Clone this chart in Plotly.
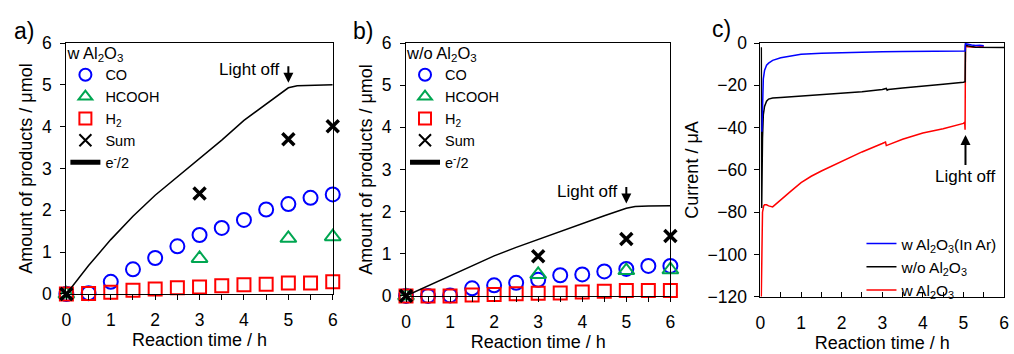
import plotly.graph_objects as go

# ---------------- data ----------------
t_prod = [0, 0.5, 1, 1.5, 2, 2.5, 3, 3.5, 4, 4.5, 5, 5.5, 6]
t_sel = [0, 3, 5, 6]

# panel a: w Al2O3
a_co = [0, 0.02, 0.29, 0.59, 0.86, 1.14, 1.41, 1.58, 1.77, 2.02, 2.15, 2.30, 2.38]
a_h2 = [0, 0.01, 0.04, 0.09, 0.12, 0.15, 0.17, 0.20, 0.22, 0.23, 0.26, 0.26, 0.29]
a_hcooh = [0, 0.85, 1.33, 1.37]
a_sum = [0, 2.40, 3.70, 4.01]
a_e_t = [0, 0.5, 1, 1.5, 2, 2.5, 3, 3.5, 4, 4.5, 5, 5.2, 5.5, 6]
a_e = [0, 0.68, 1.30, 1.86, 2.36, 2.80, 3.22, 3.68, 4.15, 4.55, 4.93, 4.98, 4.99, 5.00]

# panel b: w/o Al2O3
b_co = [0, 0.0, 0.01, 0.18, 0.25, 0.31, 0.38, 0.49, 0.51, 0.58, 0.64, 0.71, 0.71]
b_h2 = [0, 0.0, 0.0, 0.02, 0.03, 0.05, 0.06, 0.07, 0.09, 0.11, 0.13, 0.13, 0.13]
b_hcooh = [0, 0.51, 0.60, 0.62]
b_sum = [0, 0.94, 1.35, 1.42]
b_e_t = [0, 0.5, 1, 1.5, 2, 2.5, 3, 3.5, 4, 4.5, 5, 5.2, 5.5, 6]
b_e = [0, 0.24, 0.48, 0.72, 0.95, 1.15, 1.34, 1.52, 1.72, 1.90, 2.08, 2.12, 2.13, 2.14]

# panel c: current
ar_t = [0.035, 0.05, 0.07, 0.1, 0.15, 0.2, 0.3, 0.5, 0.75, 1.0, 1.5, 2.0,
        2.5, 3.0, 3.5, 4.0, 4.5, 5.0, 5.04, 5.05, 5.1, 5.2, 5.3, 5.4, 5.5]
ar_i = [-42, -25, -17, -13, -10.5, -9.5, -8.2, -7.0, -6.0, -5.3, -4.8, -4.5,
        -4.2, -4.1, -4.0, -3.9, -3.8, -3.8, -3.8, -0.3, -0.6, -0.9, -1.2, -1.0, -1.3]
wo_t = [0.02, 0.025, 0.03, 0.05, 0.07, 0.1, 0.15, 0.2, 0.3, 0.5, 1.0, 1.5, 2.0, 2.5,
        3.0, 3.1, 3.12, 3.15, 3.5, 4.0, 4.5, 5.0, 5.04, 5.05, 5.1, 5.3, 5.5, 6.0]
wo_i = [-2, -40, -78, -45, -34, -30, -27.5, -26.5, -26, -25.7, -25, -24.5, -23.8, -23,
        -22, -21.5, -22.3, -22, -21.3, -20.5, -19.5, -18.5, -18.3, -0.8, -1.3, -2.0, -2.1, -2.1]
w_t = [0.02, 0.03, 0.05, 0.08, 0.1, 0.15, 0.2, 0.3, 0.5, 0.75, 1.0, 1.25, 1.5, 2.0, 2.5,
       3.0, 3.08, 3.1, 3.5, 4.0, 4.5, 5.0, 5.03, 5.04, 5.045, 5.05, 5.1, 5.3, 5.5]
w_i = [-120, -100, -80, -77, -76.5, -76.5, -77, -77.5, -74, -70, -66, -63, -60.5, -56, -51.5,
       -47.5, -46.8, -48.5, -45.5, -42.5, -40.5, -38, -37.5, -41, -19, -1.5, -1.8, -2.0, -1.5]

BLUE = "#0000ff"
GREEN = "#00a651"
RED = "#ff0000"
FONT = "Arial, Liberation Sans, sans-serif"

fig = go.Figure()


def add_products(xa, ya, leg, co, hcooh, h2, sm, et, e):
    fig.add_trace(go.Scatter(x=t_prod, y=co, mode="markers", name="CO", xaxis=xa, yaxis=ya,
                             legend=leg, cliponaxis=False,
                             marker=dict(symbol="circle-open", size=14, color=BLUE, line=dict(width=2, color=BLUE))))
    fig.add_trace(go.Scatter(x=t_sel, y=hcooh, mode="markers", name="HCOOH", xaxis=xa, yaxis=ya,
                             legend=leg, cliponaxis=False,
                             marker=dict(symbol="triangle-up-open", size=14, color=GREEN, line=dict(width=2, color=GREEN))))
    fig.add_trace(go.Scatter(x=t_prod, y=h2, mode="markers", name="H<sub>2</sub>", xaxis=xa, yaxis=ya,
                             legend=leg, cliponaxis=False,
                             marker=dict(symbol="square-open", size=13, color=RED, line=dict(width=2, color=RED))))
    fig.add_trace(go.Scatter(x=t_sel, y=sm, mode="markers", name="Sum", xaxis=xa, yaxis=ya,
                             legend=leg, cliponaxis=False,
                             marker=dict(symbol="x-thin", size=12, color="black", line=dict(width=3.5, color="black"))))
    fig.add_trace(go.Scatter(x=et, y=e, mode="lines", name="e<sup>-</sup>/2", xaxis=xa, yaxis=ya,
                             legend=leg, line=dict(color="black", width=1.5)))


add_products("x", "y", "legend", a_co, a_hcooh, a_h2, a_sum, a_e_t, a_e)
add_products("x2", "y2", "legend2", b_co, b_hcooh, b_h2, b_sum, b_e_t, b_e)

fig.add_trace(go.Scatter(x=w_t, y=w_i, mode="lines", name="w Al<sub>2</sub>O<sub>3</sub>",
                         xaxis="x3", yaxis="y3", legend="legend3", legendrank=3,
                         line=dict(color=RED, width=1.5)))
fig.add_trace(go.Scatter(x=wo_t, y=wo_i, mode="lines", name="w/o Al<sub>2</sub>O<sub>3</sub>",
                         xaxis="x3", yaxis="y3", legend="legend3", legendrank=2,
                         line=dict(color="black", width=1.5)))
fig.add_trace(go.Scatter(x=ar_t, y=ar_i, mode="lines", name="w Al<sub>2</sub>O<sub>3</sub>(In Ar)",
                         xaxis="x3", yaxis="y3", legend="legend3", legendrank=1,
                         line=dict(color=BLUE, width=1.5)))

W, H = 1014, 354


def px_x(p):
    return p / W


def px_y(p):
    return (H - p) / H


axis_common = dict(showline=True, linecolor="black", linewidth=1.2, mirror=True, showgrid=False,
                   zeroline=False, tickfont=dict(size=17.5, color="black", family=FONT),
                   ticklen=5, tickwidth=1.2, tickcolor="black")

TF = dict(size=18, color="black", family=FONT)
xt = dict(text="Reaction time / h", font=TF, standoff=2)

LEGF = dict(size=14.5, family=FONT)
LEGT = dict(text="", font=dict(size=16.5, family=FONT))

fig.update_layout(
    width=W, height=H, margin=dict(l=0, r=0, t=0, b=0),
    paper_bgcolor="white", plot_bgcolor="white",
    font=dict(family=FONT, color="black"),
    xaxis=dict(domain=[px_x(62), px_x(331)], range=[0, 6], dtick=1, ticks="outside",
               minor=dict(dtick=0.5, ticks="outside", ticklen=5, tickcolor="black"),
               anchor="y", title=xt, ticklabelstandoff=5, **axis_common),
    yaxis=dict(domain=[px_y(301), px_y(35)], range=[0, 6], dtick=1, ticks="outside",
               anchor="x", ticklabelstandoff=5,
               title=dict(text="Amount of products / μmol", font=TF, standoff=4),
               **axis_common),
    xaxis2=dict(domain=[px_x(405), px_x(672)], range=[0, 6], dtick=1, ticks="outside",
                minor=dict(dtick=0.5, ticks="outside", ticklen=5, tickcolor="black"),
                anchor="y2", title=xt, ticklabelstandoff=5, **axis_common),
    yaxis2=dict(domain=[px_y(303), px_y(35)], range=[0, 6], dtick=1, ticks="outside",
                anchor="x2", ticklabelstandoff=5,
                title=dict(text="Amount of products / μmol", font=TF, standoff=4),
                **axis_common),
    xaxis3=dict(domain=[px_x(763), px_x(1009)], range=[0, 6], dtick=1, ticks="inside",
                minor=dict(dtick=0.5, ticks="inside", ticklen=5, tickcolor="black"),
                anchor="y3", title=xt, ticklabelstandoff=10, **axis_common),
    yaxis3=dict(domain=[px_y(304), px_y(35)], range=[-120, 0], dtick=20, ticks="outside",
                anchor="x3", ticklabelstandoff=4,
                title=dict(text="Current / μA", font=TF, standoff=4),
                **axis_common),
    legend=dict(x=px_x(61), y=px_y(29), xanchor="left", yanchor="top", bgcolor="rgba(0,0,0,0)",
                font=LEGF, itemsizing="constant",
                title=dict(text="w Al<sub>2</sub>O<sub>3</sub>", font=dict(size=16.5, family=FONT))),
    legend2=dict(x=px_x(404), y=px_y(29), xanchor="left", yanchor="top", bgcolor="rgba(0,0,0,0)",
                 font=LEGF, itemsizing="constant",
                 title=dict(text="w/o Al<sub>2</sub>O<sub>3</sub>", font=dict(size=16.5, family=FONT))),
    legend3=dict(x=px_x(865), y=px_y(230), xanchor="left", yanchor="top", bgcolor="rgba(0,0,0,0)",
                 font=dict(size=15.5, family=FONT), traceorder="normal"),
)

ann = []
for lab, xp, yp in [("a)", 19, 22), ("b)", 362, 22), ("c)", 724, 20)]:
    ann.append(dict(text=lab, x=px_x(xp), y=px_y(yp), xref="paper", yref="paper", showarrow=False,
                    font=dict(size=23, family=FONT, color="black"), xanchor="center", yanchor="middle"))

# Light off annotations
ann.append(dict(text="", x=5, y=5.05, xref="x", yref="y", ax=0, ay=-18, showarrow=True,
                arrowhead=2, arrowsize=1, arrowwidth=2, arrowcolor="black"))
ann.append(dict(text="Light off", x=5, y=5.36, xref="x", yref="y", showarrow=False, xanchor="right",
                xshift=-7, font=dict(size=17, family=FONT, color="black")))
ann.append(dict(text="", x=5, y=2.19, xref="x2", yref="y2", ax=0, ay=-18, showarrow=True,
                arrowhead=2, arrowsize=1, arrowwidth=2, arrowcolor="black"))
ann.append(dict(text="Light off", x=5, y=2.47, xref="x2", yref="y2", showarrow=False, xanchor="right",
                xshift=-7, font=dict(size=17, family=FONT, color="black")))
ann.append(dict(text="Light off", x=5.05, y=-43.5, xref="x3", yref="y3", ax=0, ay=41, showarrow=True,
                arrowhead=2, arrowsize=1, arrowwidth=2, arrowcolor="black",
                font=dict(size=17, family=FONT, color="black")))
fig.update_layout(annotations=ann)

fig.write_html("out.html")
